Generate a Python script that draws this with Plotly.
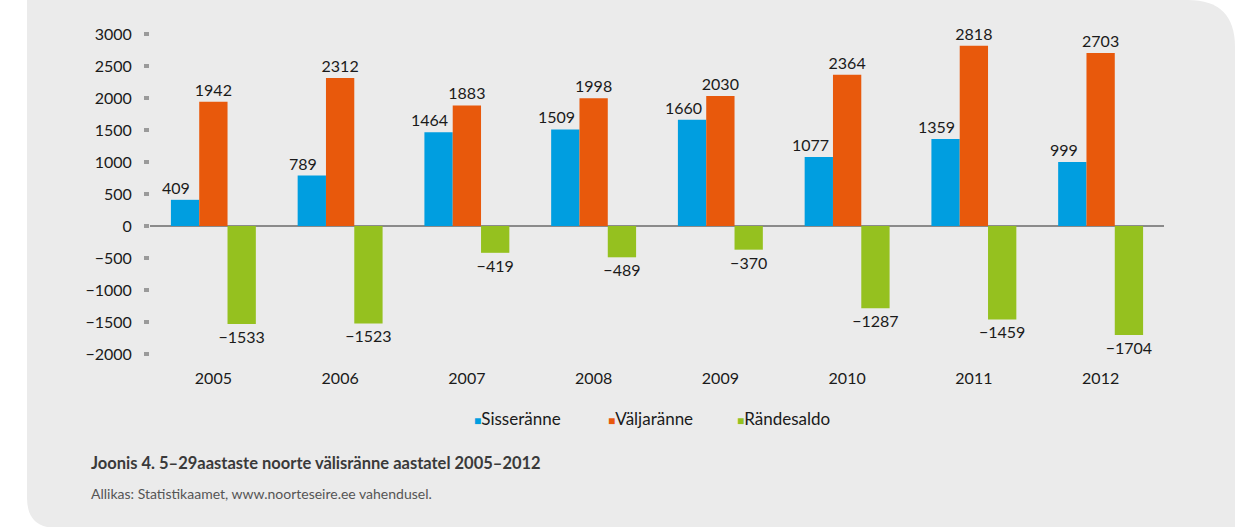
import plotly.graph_objects as go

years = ["2005", "2006", "2007", "2008", "2009", "2010", "2011", "2012"]
sisseranne = [409, 789, 1464, 1509, 1660, 1077, 1359, 999]
valjaranne = [1942, 2312, 1883, 1998, 2030, 2364, 2818, 2703]
randesaldo = [-1533, -1523, -419, -489, -370, -1287, -1459, -1704]
series_names = ["Sisseränne", "Väljaränne", "Rändesaldo"]
colors = ["#009ee0", "#e8590c", "#95c11f"]
ytick_vals = [3000, 2500, 2000, 1500, 1000, 500, 0, -500, -1000, -1500, -2000]

FONT = "Lato"
W, H = 1253, 527
# plot area in pixels
X0, X1, Y0, Y1 = 150, 1164, 34, 354
L, R, T, B = X0, W - X1, Y0, H - Y1
PW, PH = X1 - X0, Y1 - Y0


def px(x):  # pixel x -> paper
    return (x - X0) / PW


def py(y):  # pixel y -> paper
    return (Y1 - y) / PH


def fmt(v):
    return str(v).replace("-", "\u2212")


fig = go.Figure()
for i, (name, vals, col) in enumerate(zip(series_names, [sisseranne, valjaranne, randesaldo], colors)):
    fig.add_trace(go.Bar(
        x=years, y=vals, name=name, marker=dict(color=col, line=dict(width=0)),
        text=None if i == 0 else [fmt(v) for v in vals],
        textposition="outside", constraintext="none",
        textangle=0, textfont=dict(family=FONT, size=16, color="#1a1a1a"),
        cliponaxis=False, showlegend=False,
    ))

# labels of the first series drawn on top, nudged left like the original
for idx, v in enumerate(sisseranne):
    fig.add_annotation(x=idx, y=v, xref="x", yref="y", text=fmt(v), showarrow=False,
                       xanchor="center", yanchor="bottom", xshift=-37, yshift=1,
                       font=dict(family=FONT, size=16, color="#1a1a1a"))

# background panel with rounded corners
path = (f"M {px(27)},{py(0)} L {px(1188)},{py(0)} Q {px(1235)},{py(0)} {px(1235)},{py(47)} "
        f"L {px(1235)},{py(528)} L {px(57)},{py(528)} Q {px(27)},{py(528)} {px(27)},{py(498)} Z")
fig.add_shape(type="path", path=path, xref="paper", yref="paper",
              fillcolor="#ebebeb", line=dict(width=0), layer="below")

# legend as annotations
leg_x = [472, 606, 735]
for name, col, lx in zip(series_names, colors, leg_x):
    fig.add_annotation(
        x=px(lx), y=py(418), xref="paper", yref="paper", xanchor="left", yanchor="middle",
        text=f'<span style="color:{col};font-size:12px">■</span>{name}', showarrow=False,
        font=dict(family=FONT, size=17, color="#1a1a1a"),
    )

fig.add_annotation(
    x=px(89), y=py(463), xref="paper", yref="paper", xanchor="left", yanchor="middle",
    text="<b>Joonis 4. 5–29aastaste noorte välisränne aastatel 2005–2012</b>", showarrow=False,
    font=dict(family=FONT, size=16.5, color="#3a3a3a"),
)
fig.add_annotation(
    x=px(89), y=py(493), xref="paper", yref="paper", xanchor="left", yanchor="middle",
    text="Allikas: Statistikaamet, www.noorteseire.ee vahendusel.", showarrow=False,
    font=dict(family=FONT, size=14, color="#555555"),
)

fig.update_layout(
    width=W, height=H, margin=dict(l=L, r=R, t=T, b=B, pad=0),
    paper_bgcolor="white", plot_bgcolor="rgba(0,0,0,0)",
    barmode="group", bargap=0.33, bargroupgap=0,
    font=dict(family=FONT, size=16, color="#1a1a1a"),
    showlegend=False,
)
fig.update_xaxes(type="category", range=[-0.5, len(years) - 0.5],
                 showgrid=False, showline=False, ticks="", zeroline=False,
                 tickfont=dict(family=FONT, size=16, color="#1a1a1a"), ticklabelstandoff=13)
fig.update_yaxes(range=[-2000, 3000], showgrid=False, showline=False,
                 zeroline=True, zerolinecolor="#8a8a8a", zerolinewidth=2,
                 tickvals=ytick_vals, ticktext=[fmt(v) for v in ytick_vals],
                 ticks="outside", ticklen=5, tickwidth=4, tickcolor="#9a9a9a",
                 ticklabelstandoff=9, tickfont=dict(family=FONT, size=16, color="#1a1a1a"))

fig.write_html("out.html", config={"displayModeBar": False},
               post_script="document.body.style.margin='0';document.body.style.overflow='hidden';")
